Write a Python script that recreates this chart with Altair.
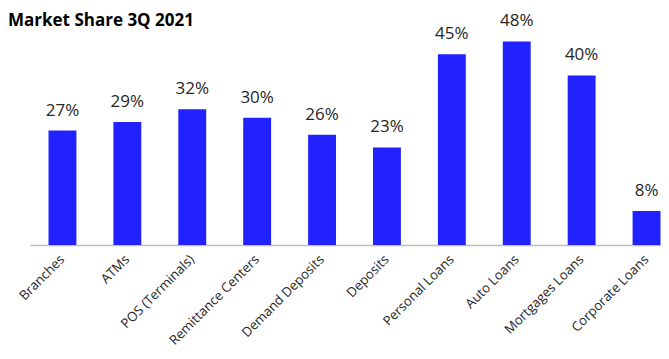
import altair as alt
import pandas as pd

categories = ["Branches", "ATMs", "POS (Terminals)", "Remittance Centers", "Demand Deposits",
              "Deposits", "Personal Loans", "Auto Loans", "Mortgages Loans", "Corporate Loans"]
shares = [27, 29, 32, 30, 26, 23, 45, 48, 40, 8]
labels = [f"{v}%" for v in shares]

df = pd.DataFrame({"cat": categories, "share": shares, "label": labels})

FONT = "Open Sans"

x = alt.X("cat:N", sort=categories,
          scale=alt.Scale(range=[0, 649], paddingInner=0.57, paddingOuter=0.285),
          axis=alt.Axis(title=None, labelAngle=-45, labelFont=FONT, labelFontSize=13.2,
                        labelColor="#262626", ticks=False, domainColor="#bfbfbf",
                        domainWidth=1.5, labelPadding=12, labelAlign="right",
                        labelBaseline="middle", labelOverlap=False))
y = alt.Y("share:Q", scale=alt.Scale(domain=[0, 50]), axis=None)

bars = alt.Chart(df).mark_bar(color="#2222FF").encode(x=x, y=y)
text = alt.Chart(df).mark_text(font=FONT, fontSize=17, color="#262626", dy=-15,
                               baseline="alphabetic").encode(x=x, y=y, text="label:N")

chart = alt.layer(bars, text).properties(
    width=631, height=212,
    autosize=alt.AutoSizeParams(type="none"),
    padding={"left": 22, "top": 25, "right": 0, "bottom": 106},
    title=alt.TitleParams("Market Share 3Q 2021", anchor="start", frame="group", dx=-22,
                          font=FONT, fontSize=17, fontWeight="bold", color="#000000",
                          offset=-18),
).configure_view(stroke=None)

chart.save("out.html", embed_options={"renderer": "svg", "actions": False})
